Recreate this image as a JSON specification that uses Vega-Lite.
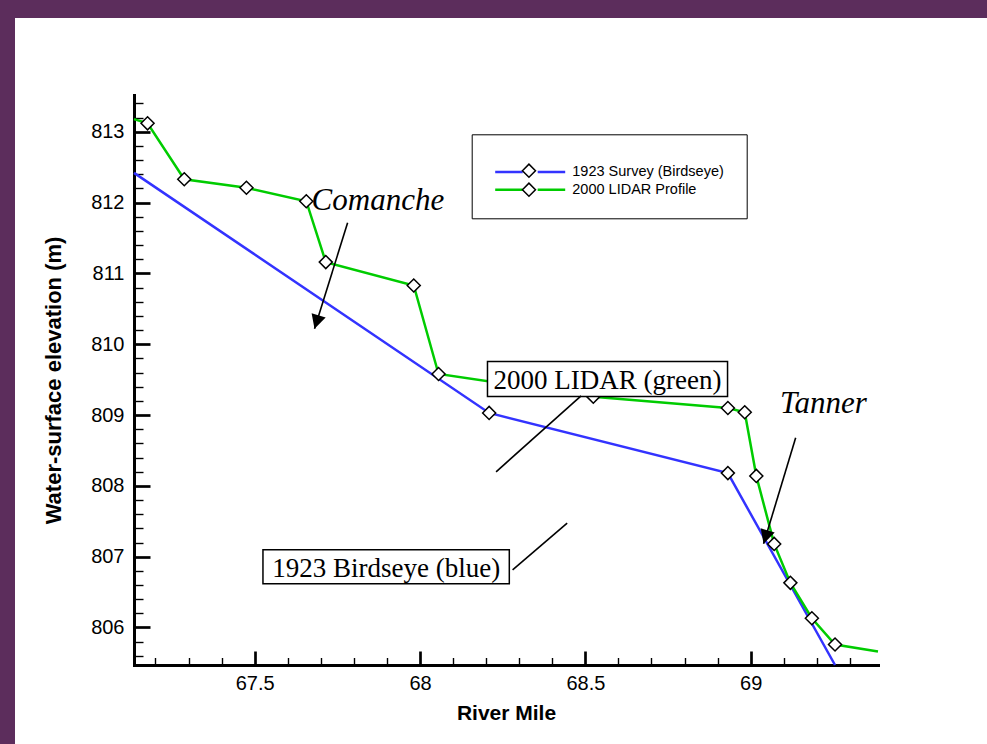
{
  "$schema": "https://vega.github.io/schema/vega-lite/v6.json",
  "width": 972,
  "height": 726,
  "autosize": {"type": "none"},
  "padding": {"left": 15, "top": 18, "right": 0, "bottom": 0},
  "background": "#5c2d5c",
  "config": {"view": {"fill": "white", "stroke": null}, "font": "Liberation Sans"},
  "datasets": {
    "profiles": [
      {"series": "1923 Survey (Birdseye)", "x": 67.135, "y": 812.42},
      {"series": "1923 Survey (Birdseye)", "x": 68.209, "y": 809.03},
      {"series": "1923 Survey (Birdseye)", "x": 68.931, "y": 808.18},
      {"series": "1923 Survey (Birdseye)", "x": 69.255, "y": 805.47},
      {"series": "2000 LIDAR Profile", "x": 67.135, "y": 813.18},
      {"series": "2000 LIDAR Profile", "x": 67.176, "y": 813.12},
      {"series": "2000 LIDAR Profile", "x": 67.287, "y": 812.33},
      {"series": "2000 LIDAR Profile", "x": 67.475, "y": 812.21},
      {"series": "2000 LIDAR Profile", "x": 67.656, "y": 812.02},
      {"series": "2000 LIDAR Profile", "x": 67.715, "y": 811.16},
      {"series": "2000 LIDAR Profile", "x": 67.981, "y": 810.83},
      {"series": "2000 LIDAR Profile", "x": 68.056, "y": 809.58},
      {"series": "2000 LIDAR Profile", "x": 68.524, "y": 809.26},
      {"series": "2000 LIDAR Profile", "x": 68.931, "y": 809.10},
      {"series": "2000 LIDAR Profile", "x": 68.982, "y": 809.04},
      {"series": "2000 LIDAR Profile", "x": 69.017, "y": 808.14},
      {"series": "2000 LIDAR Profile", "x": 69.071, "y": 807.18},
      {"series": "2000 LIDAR Profile", "x": 69.120, "y": 806.63},
      {"series": "2000 LIDAR Profile", "x": 69.185, "y": 806.13},
      {"series": "2000 LIDAR Profile", "x": 69.255, "y": 805.76},
      {"series": "2000 LIDAR Profile", "x": 69.385, "y": 805.66}
    ],
    "boxes": [
      {"label": "2000 LIDAR (green)", "x": 68.567, "y": 809.366, "bx1": 68.204, "bx2": 68.930, "by1": 809.261, "by2": 809.756},
      {"label": "1923 Birdseye (blue)", "x": 67.898, "y": 806.719, "bx1": 67.525, "bx2": 68.270, "by1": 806.616, "by2": 807.096}
    ],
    "lines": [
      {"x": 68.487, "y": 809.271, "x2": 68.230, "y2": 808.198},
      {"x": 68.280, "y": 806.814, "x2": 68.445, "y2": 807.473},
      {"x": 67.781, "y": 811.715, "x2": 67.681, "y2": 810.218},
      {"x": 69.136, "y": 808.678, "x2": 69.039, "y2": 807.181}
    ],
    "tips": [
      {"x": 67.681, "y": 810.218},
      {"x": 69.039, "y": 807.181}
    ],
    "places": [
      {"label": "Comanche", "x": 67.672, "y": 811.891},
      {"label": "Tanner", "x": 69.089, "y": 809.035}
    ]
  },
  "resolve": {"axis": {"x": "independent", "y": "independent"}},
  "layer": [
    {
      "data": {"name": "profiles"},
      "mark": {"type": "line", "strokeWidth": 2.5},
      "encoding": {
        "x": {
          "field": "x", "type": "quantitative",
          "scale": {"domain": [67.135, 69.385], "range": [119, 863], "nice": false, "zero": false},
          "axis": {
            "orient": "bottom", "offset": -79, "values": [67.5, 68, 68.5, 69], "format": "~g",
            "tickSize": -14, "tickWidth": 2.7, "tickColor": "black",
            "domainColor": "black", "domainWidth": 3, "domainCap": "square",
            "labelPadding": 22, "labelFontSize": 20, "labelColor": "black", "labelFont": "Liberation Sans",
            "labelFlush": false, "labelOverlap": false, "grid": false,
            "title": "River Mile", "titleFontSize": 21, "titleFontWeight": "bold", "titleColor": "black",
            "titleFont": "Liberation Sans", "titlePadding": 9
          }
        },
        "y": {
          "field": "y", "type": "quantitative",
          "scale": {"domain": [805.47, 813.52], "range": [647, 77], "nice": false, "zero": false},
          "axis": {
            "orient": "left", "offset": -119, "values": [806, 807, 808, 809, 810, 811, 812, 813], "format": "d",
            "tickSize": -16, "tickWidth": 2.7, "tickColor": "black",
            "domainColor": "black", "domainWidth": 3, "domainCap": "square",
            "labelPadding": 26, "labelFontSize": 20, "labelColor": "black", "labelFont": "Liberation Sans",
            "labelFlush": false, "labelOverlap": false, "grid": false,
            "title": "Water-surface elevation (m)", "titleFontSize": 22, "titleFontWeight": "bold", "titleColor": "black",
            "titleFont": "Liberation Sans", "titlePadding": 25
          }
        },
        "color": {
          "field": "series", "type": "nominal",
          "scale": {"domain": ["1923 Survey (Birdseye)", "2000 LIDAR Profile"], "range": ["#3333ff", "#00cc00"]},
          "legend": {
            "orient": "none", "legendX": 456.7, "legendY": 116.3,
            "title": "\u00a0", "titleFontSize": 5, "titlePadding": 2.3,
            "symbolType": "M-5,0H-1.07M1.07,0H5", "symbolSize": 196, "symbolStrokeWidth": 2.5, "symbolOffset": 28,
            "labelFontSize": 14.5, "labelFont": "Liberation Sans", "labelColor": "black", "labelOffset": 33.6, "labelLimit": 400,
            "strokeColor": "black", "padding": 22, "rowPadding": 2.6
          }
        }
      }
    },
    {
      "data": {"name": "profiles"},
      "transform": [{"filter": "datum.x > 67.14 && datum.x < 69.38 && datum.y > 805.5"}],
      "mark": {"type": "point", "filled": true, "fill": "white", "strokeWidth": 1.5, "size": 170, "opacity": 1},
      "encoding": {
        "x": {
          "field": "x", "type": "quantitative",
          "axis": {
            "orient": "bottom", "offset": -79,
            "values": [67.2, 67.3, 67.4, 67.6, 67.7, 67.8, 67.9, 68.1, 68.2, 68.3, 68.4, 68.6, 68.7, 68.8, 68.9, 69.1, 69.2, 69.3],
            "tickSize": -7.5, "tickWidth": 1.4, "tickColor": "black", "domain": false, "labels": false, "grid": false, "title": null
          }
        },
        "y": {
          "field": "y", "type": "quantitative",
          "axis": {
            "orient": "left", "offset": -119,
            "values": [805.6, 805.8, 806.2, 806.4, 806.6, 806.8, 807.2, 807.4, 807.6, 807.8, 808.2, 808.4, 808.6, 808.8, 809.2, 809.4, 809.6, 809.8, 810.2, 810.4, 810.6, 810.8, 811.2, 811.4, 811.6, 811.8, 812.2, 812.4, 812.6, 812.8, 813.2, 813.4],
            "tickSize": -9, "tickWidth": 1.4, "tickColor": "black", "domain": false, "labels": false, "grid": false, "title": null
          }
        },
        "shape": {"value": "diamond"},
        "stroke": {
          "field": "series", "type": "nominal",
          "scale": {"domain": ["2000 LIDAR Profile", "1923 Survey (Birdseye)"], "range": ["black", "black"]},
          "legend": {
            "orient": "none", "legendX": 506.45, "legendY": 145.2, "title": null, "padding": 0,
            "symbolType": "diamond", "symbolSize": 170, "symbolFillColor": "white", "symbolStrokeWidth": 1.5, "symbolOpacity": 1,
            "labelFontSize": 14.5, "labelExpr": "''", "rowPadding": -2
          }
        }
      }
    },
    {
      "data": {"name": "boxes"},
      "mark": {"type": "rect", "fill": "white", "stroke": "black", "strokeWidth": 1.5},
      "encoding": {
        "x": {"field": "bx1", "type": "quantitative", "axis": null},
        "x2": {"field": "bx2"},
        "y": {"field": "by1", "type": "quantitative", "axis": null},
        "y2": {"field": "by2"}
      }
    },
    {
      "data": {"name": "boxes"},
      "mark": {"type": "text", "font": "Liberation Serif", "fontSize": 27, "align": "center", "baseline": "alphabetic", "color": "black"},
      "encoding": {
        "x": {"field": "x", "type": "quantitative", "axis": null},
        "y": {"field": "y", "type": "quantitative", "axis": null},
        "text": {"field": "label"}
      }
    },
    {
      "data": {"name": "lines"},
      "mark": {"type": "rule", "color": "black", "strokeWidth": 1.6},
      "encoding": {
        "x": {"field": "x", "type": "quantitative", "axis": null},
        "y": {"field": "y", "type": "quantitative", "axis": null},
        "x2": {"field": "x2"},
        "y2": {"field": "y2"}
      }
    },
    {
      "data": {"name": "tips"},
      "mark": {"type": "point", "shape": "M0,0L-1.05,-2L1.05,-2Z", "size": 196, "angle": 17, "filled": true, "color": "black", "opacity": 1},
      "encoding": {
        "x": {"field": "x", "type": "quantitative", "axis": null},
        "y": {"field": "y", "type": "quantitative", "axis": null}
      }
    },
    {
      "data": {"name": "places"},
      "mark": {"type": "text", "font": "Liberation Serif", "fontSize": 31, "fontStyle": "italic", "align": "left", "baseline": "alphabetic", "color": "black"},
      "encoding": {
        "x": {"field": "x", "type": "quantitative", "axis": null},
        "y": {"field": "y", "type": "quantitative", "axis": null},
        "text": {"field": "label"}
      }
    }
  ]
}
